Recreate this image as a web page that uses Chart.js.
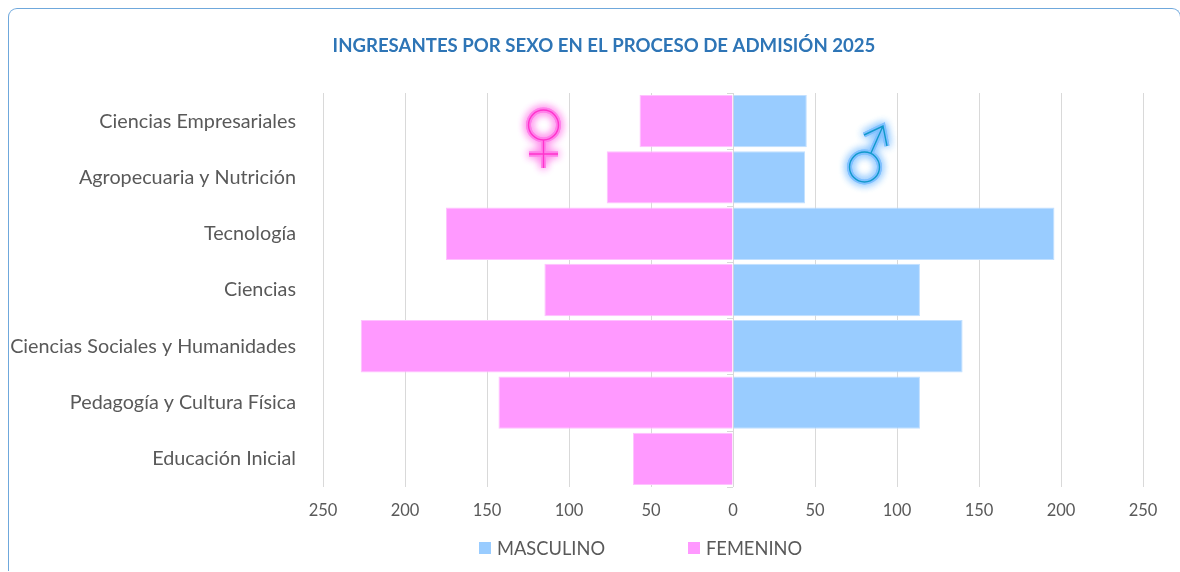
<!DOCTYPE html>
<html>
<head>
<meta charset="utf-8">
<script src="https://cdn.jsdelivr.net/npm/chart.js@4"></script>
<style>
  html, body { margin: 0; background: #fff; overflow: hidden; width: 1180px; height: 572px; }
  #marco { position: absolute; left: 8px; top: 8px; width: 1173px; height: 563px; border: 1px solid #6fa8dc; border-bottom: none; border-radius: 9px 9px 0 0; box-sizing: border-box; }
  #caja { position: absolute; left: 0; top: 0; width: 1180px; height: 572px; }
  #leyenda { position: absolute; top: 537px; left: 0; font: 18.3px Lato; color: #595959; }
  #leyenda span { position: absolute; white-space: nowrap; line-height: 22px; }
  #leyenda i { position: absolute; top: 5px; width: 12px; height: 12px; }
</style>
</head>
<body>
<div id="marco"></div>
<div id="caja"><canvas id="grafico"></canvas></div>
<div id="leyenda"></div>
<script>
const facultades = ['Ciencias Empresariales', 'Agropecuaria y Nutrición', 'Tecnología', 'Ciencias',
  'Ciencias Sociales y Humanidades', 'Pedagogía y Cultura Física', 'Educación Inicial'];
const masculino = [45, 44, 196, 114, 140, 114, 0];
const femenino = [57, 77, 175, 115, 227, 143, 61];
const colorMasculino = '#99ccff';
const colorFemenino = '#ff99ff';

// simbolos y marcas del eje central
const decoracion = {
  id: 'decoracion',
  afterDatasetsDraw(chart) {
    const ctx = chart.ctx, y = chart.scales.y, x = chart.scales.x;
    const x0 = x.getPixelForValue(0);
    ctx.save();
    ctx.strokeStyle = '#d9d9d9';
    ctx.lineWidth = 1;
    ctx.beginPath();
    for (let i = 0; i <= facultades.length; i++) {
      const py = Math.round(y.top + i * y.height / facultades.length) + 0.5;
      ctx.moveTo(x0 - 6, py);
      ctx.lineTo(x0, py);
    }
    ctx.stroke();
    ctx.restore();

    simbolo(ctx, '#ff33cc', '#ff80ea', (c) => {
      c.moveTo(558.5, 125); c.arc(543.5, 125, 15, 0, Math.PI * 2);
      c.moveTo(543.5, 140); c.lineTo(543.5, 168);
      c.moveTo(529, 154); c.lineTo(558, 154);
    });
    simbolo(ctx, '#1199cc', '#80c0ff', (c) => {
      c.moveTo(879.5, 167); c.arc(864.5, 167, 15, 0, Math.PI * 2);
      c.moveTo(871, 153); c.lineTo(883, 126);
      c.moveTo(864, 135); c.lineTo(883, 126); c.lineTo(887, 146);
    });
  }
};

function simbolo(ctx, color, brillo, trazo) {
  ctx.save();
  // primero el brillo ancho, luego la linea fina encima
  ctx.strokeStyle = brillo;
  ctx.lineWidth = 5;
  ctx.shadowColor = brillo;
  ctx.shadowBlur = 8;
  for (let i = 0; i < 2; i++) {
    ctx.beginPath();
    trazo(ctx);
    ctx.stroke();
  }
  ctx.shadowBlur = 0;
  ctx.strokeStyle = color;
  ctx.lineWidth = 1.4;
  ctx.beginPath();
  trazo(ctx);
  ctx.stroke();
  ctx.restore();
}

// el titulo no va centrado en el area del grafico
const moverTitulo = {
  id: 'moverTitulo',
  afterLayout(chart) {
    chart.titleBlock.left += 32.5;
    chart.titleBlock.right += 32.5;
  }
};

const grafico = new Chart(document.getElementById('grafico'), {
  type: 'bar',
  data: {
    labels: facultades,
    datasets: [
      { label: 'MASCULINO', data: masculino, backgroundColor: colorMasculino, borderColor: '#c2e0ff', borderWidth: 1 },
      { label: 'FEMENINO', data: femenino.map((v) => -v), backgroundColor: colorFemenino, borderColor: '#ffc2ff', borderWidth: 1 }
    ]
  },
  options: {
    indexAxis: 'y',
    responsive: true,
    maintainAspectRatio: false,
    animation: false,
    barPercentage: 0.93,
    categoryPercentage: 1,
    layout: { padding: { left: 0, right: 37, top: 0, bottom: 46 } },
    scales: {
      x: {
        stacked: true,
        min: -250,
        max: 250,
        border: { display: false },
        grid: { color: '#d9d9d9', drawTicks: false },
        ticks: {
          stepSize: 50,
          maxRotation: 0,
          padding: 14,
          color: '#595959',
          font: { family: 'Lato', size: 16.5 },
          callback: (v) => Math.abs(v)
        },
        afterFit: (s) => { s.height = 39; }
      },
      y: {
        stacked: true,
        border: { display: false },
        grid: { display: false, drawTicks: false },
        ticks: {
          padding: 27,
          autoSkip: false,
          color: '#595959',
          font: { family: 'Lato', size: 19.8 }
        },
        afterFit: (s) => { s.width = 323; }
      }
    },
    plugins: {
      title: {
        display: true,
        text: 'INGRESANTES POR SEXO EN EL PROCESO DE ADMISIÓN 2025',
        color: '#2e75b6',
        font: { family: 'Lato', size: 18.6, weight: 'bold' },
        padding: { top: 35, bottom: 35.7 }
      },
      legend: { display: false },
      tooltip: { enabled: false }
    }
  },
  plugins: [decoracion, moverTitulo]
});

// leyenda en html para poder separar las entradas
const posicionesLeyenda = [479, 688];
grafico.data.datasets.forEach((ds, i) => {
  const item = document.createElement('span');
  item.style.left = posicionesLeyenda[i] + 'px';
  item.style.paddingLeft = '18px';
  item.innerHTML = '<i style="left:0;background:' + ds.backgroundColor + '"></i>' + ds.label;
  document.getElementById('leyenda').appendChild(item);
});
</script>
</body>
</html>
